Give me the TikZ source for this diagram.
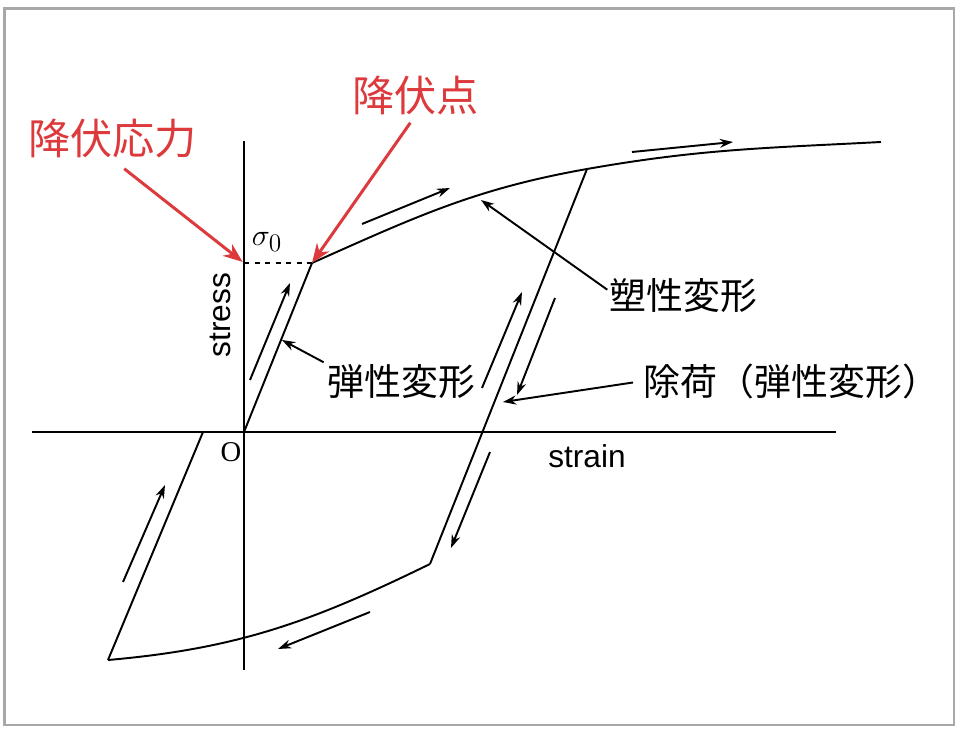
\documentclass[tikz,border=0pt]{standalone}
\usepackage{fontspec}
\usepackage{xcolor}
\usetikzlibrary{arrows.meta}
\setmainfont{Liberation Serif}
\setsansfont{Liberation Sans}
\newfontfamily\jpfont{Noto Sans CJK JP}
\definecolor{yieldred}{HTML}{DC3A3C}
\definecolor{framegray}{HTML}{A8A8A8}

\begin{document}
\begin{tikzpicture}[line width=1.1pt,
  dirarrow/.style={-{Stealth[length=7.5pt,width=5pt]}},
  ptrarrow/.style={-{Stealth[length=7.5pt,width=5.2pt]}},
  redarrow/.style={yieldred,line width=1.7pt,-{Stealth[length=11pt,width=8.5pt]}},
  redlabel/.style={text=yieldred,font=\jpfont\fontsize{24}{28}\selectfont,inner sep=0pt},
  jplabel/.style={font=\jpfont\fontsize{21}{25}\selectfont,inner sep=0pt},
  axislabel/.style={font=\sffamily\fontsize{18}{22}\selectfont,inner sep=0pt}]
\fill[white] (-4.88,-6.08) rectangle (14.4,8.64);
\useasboundingbox (-4.88,-6.08) rectangle (14.4,8.64);
\draw[framegray,line width=1.4pt] (-4.79,-5.86) rectangle (14.2,8.47);

% points of the loop
\coordinate (O) at (0,0);
\coordinate (s0) at (0,3.38);
\coordinate (Y) at (1.36,3.38);
\coordinate (U) at (6.86,5.26);
\coordinate (E) at (12.74,5.8);
\coordinate (B) at (3.72,-2.64);
\coordinate (L) at (-2.72,-4.56);
\coordinate (R) at (-0.82,0);

% axes
\draw (-4.24,0) -- (11.84,0);
\draw (0,-4.76) -- (0,5.82);
\node[axislabel] (strain) at (6.86,-0.48) {strain};
\node[axislabel,rotate=90] (stress) at (-0.48,2.34) {stress};
\node[font=\fontsize{16.3}{19}\selectfont,inner sep=0pt] (orig) at (-0.26,-0.4) {O};
\node[font=\fontsize{19}{22}\selectfont,inner sep=0pt] (sig) at (0.46,3.8) {$\sigma_0$};

% stress-strain loop
\draw[dashed,line width=0.9pt] (s0) -- (Y);
\draw (O) -- (Y);
\draw (Y) to[out=24,in=190] (U) to[out=10,in=183] (E);
\draw (U) -- (B);
\draw (B) to[out=206,in=5] (L);
\draw (L) -- (R);

% direction arrows
\draw[dirarrow] (0.12,1.04) -- (0.92,2.98);
\draw[dirarrow] (2.36,4.16) -- (4.12,4.88);
\draw[dirarrow] (7.76,5.6) -- (9.78,5.8);
\draw[dirarrow] (4.76,0.88) -- (5.56,2.8);
\draw[dirarrow] (6.22,2.68) -- (5.46,0.74);
\draw[dirarrow] (4.92,-0.4) -- (4.14,-2.32);
\draw[dirarrow] (2.52,-3.6) -- (0.68,-4.34);
\draw[dirarrow] (-2.42,-3.0) -- (-1.58,-1.06);

% labels
\node[redlabel] (lbS) at (-2.63,5.86) {降伏応力};
\node[redlabel] (lbY) at (3.43,6.74) {降伏点};
\node[jplabel] (lbE) at (3.15,1.0) {弾性変形};
\node[jplabel] (lbP) at (8.79,2.72) {塑性変形};
\node[jplabel] (lbU) at (10.95,1.02) {除荷（弾性変形）};

\coordinate (eT) at (0.76,1.84);
\coordinate (pT) at (4.74,4.64);
\coordinate (uT) at (5.18,0.6);

\draw[redarrow,shorten <=0.3cm,shorten >=1pt] (lbS.south) -- (s0);
\draw[redarrow,shorten <=0.18cm] (lbY.south) -- (Y);
\draw[ptrarrow,shorten <=2pt] (lbE.north west) -- (eT);
\draw[ptrarrow,shorten <=1pt] ([yshift=3pt]lbP.west) -- (pT);
\draw[ptrarrow,shorten <=0.2cm] (lbU.west) -- (uT);
\end{tikzpicture}
\end{document}
